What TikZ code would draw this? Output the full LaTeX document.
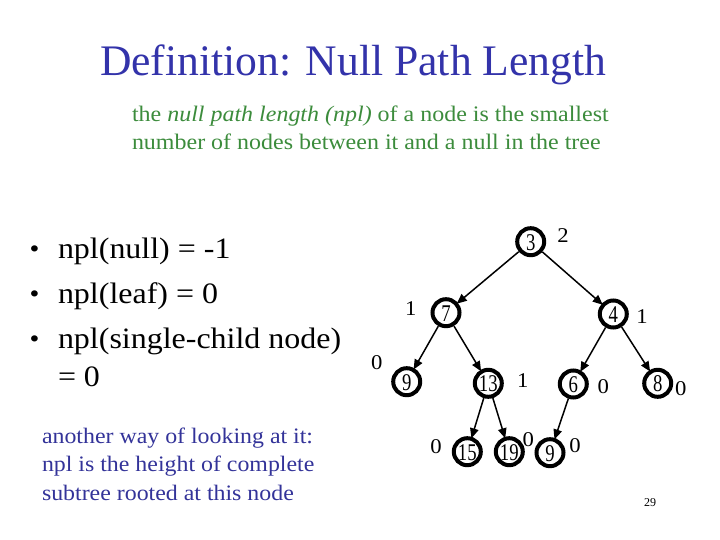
\documentclass[tikz,border=0pt]{standalone}
\usepackage{fontspec}
\setmainfont{Liberation Serif}
\newfontfamily\bodyfont{Liberation Serif}[FakeStretch=1.08]
\newfontfamily\digitfont{Liberation Serif}[FakeStretch=0.78]
\usetikzlibrary{arrows.meta}
\definecolor{titleblue}{HTML}{3333AA}
\definecolor{notegreen}{HTML}{3C8C3C}
\definecolor{noteblue}{HTML}{333399}
\newcommand{\nodedigits}[1]{\raisebox{-8.5bp}[0pt][0pt]{\makebox[0pt]{#1}}}
\begin{document}
\begin{tikzpicture}[x=1bp,y=-1bp,
  txt/.style={anchor=base west,inner sep=0pt,outer sep=0pt},
  tnode/.style={circle,draw=black,line width=4bp,minimum size=27bp,inner sep=0pt,
    font=\digitfont\fontsize{24bp}{28bp}\selectfont},
  nlabel/.style={inner sep=0pt,font=\bodyfont\fontsize{21bp}{24bp}\selectfont},
  edge/.style={line width=1.5bp,-{Triangle[length=10bp,width=8.5bp]},shorten >=-1.5bp}]
\useasboundingbox (0,0) rectangle (720,540);
\fill[white] (0,0) rectangle (720,540);
% title
\node[txt,text=titleblue,font=\fontsize{43.6bp}{48bp}\selectfont] (title) at (100,76) {Definition: Null Path Length};
% green definition
\node[txt,text=notegreen,font=\bodyfont\fontsize{22.2bp}{26bp}\selectfont] (def1) at (132,121.7) {the \textit{null path length (npl)} of a node is the smallest};
\node[txt,text=notegreen,font=\bodyfont\fontsize{22.2bp}{26bp}\selectfont] (def2) at (132,150) {number of nodes between it and a null in the tree};
% bullets
\foreach \y/\t/\n in {259/{npl(null) = -1}/b1, 303/{npl(leaf) = 0}/b2, 348/{npl(single-child node)}/b3}{
  \node[txt,font=\bodyfont\fontsize{26bp}{32bp}\selectfont] (\n d) at (29.5,\y-1) {•};
  \node[txt,font=\bodyfont\fontsize{29.6bp}{32bp}\selectfont] (\n) at (58,\y) {\t};
}
\node[txt,font=\bodyfont\fontsize{29.6bp}{32bp}\selectfont] (b4) at (58,386.7) {= 0};
% blue note
\node[txt,text=noteblue,font=\bodyfont\fontsize{22.1bp}{26bp}\selectfont] (n1) at (42,443) {another way of looking at it:};
\node[txt,text=noteblue,font=\bodyfont\fontsize{22.1bp}{26bp}\selectfont] (n2) at (42,471.7) {npl is the height of complete};
\node[txt,text=noteblue,font=\bodyfont\fontsize{22.1bp}{26bp}\selectfont] (n3) at (42,500) {subtree rooted at this node};
% page number
\node[inner sep=0pt,font=\fontsize{12bp}{14bp}\selectfont] (pg) at (650,503) {29};
% tree
\node[tnode] (t3) at (530.7,241.7) {\nodedigits{3}};
\node[tnode] (t7) at (446,312.7) {\nodedigits{7}};
\node[tnode] (t4) at (613.3,314) {\nodedigits{4}};
\node[tnode] (t9) at (406.7,381.7) {\nodedigits{9}};
\node[tnode] (t13) at (488.3,383.3) {\nodedigits{13}};
\node[tnode] (t6) at (573.3,384) {\nodedigits{6}};
\node[tnode] (t8) at (657.7,383.3) {\nodedigits{8}};
\node[tnode] (t15) at (467.3,451.7) {\nodedigits{15}};
\node[tnode] (t19) at (509.3,451.7) {\nodedigits{19}};
\node[tnode] (t9b) at (550,452.7) {\nodedigits{9}};
\draw[edge] (t3) -- (t7);
\draw[edge] (t3) -- (t4);
\draw[edge] (t7) -- (t9);
\draw[edge] (t7) -- (t13);
\draw[edge] (t4) -- (t6);
\draw[edge] (t4) -- (t8);
\draw[edge] (t13) -- (t15);
\draw[edge] (t13) -- (t19);
\draw[edge] (t6) -- (t9b);
% npl labels
\node[nlabel] (l3) at (563,236) {2};
\node[nlabel] (l7) at (410.7,309) {1};
\node[nlabel] (l4) at (642,316.7) {1};
\node[nlabel] (l9) at (376.7,363) {0};
\node[nlabel] (l13) at (522.7,380.7) {1};
\node[nlabel] (l6) at (603.3,386.7) {0};
\node[nlabel] (l8) at (680.7,388.3) {0};
\node[nlabel] (l15) at (436,447) {0};
\node[nlabel] (l19) at (528.3,440) {0};
\node[nlabel] (l9b) at (575,446) {0};
\end{tikzpicture}
\end{document}
